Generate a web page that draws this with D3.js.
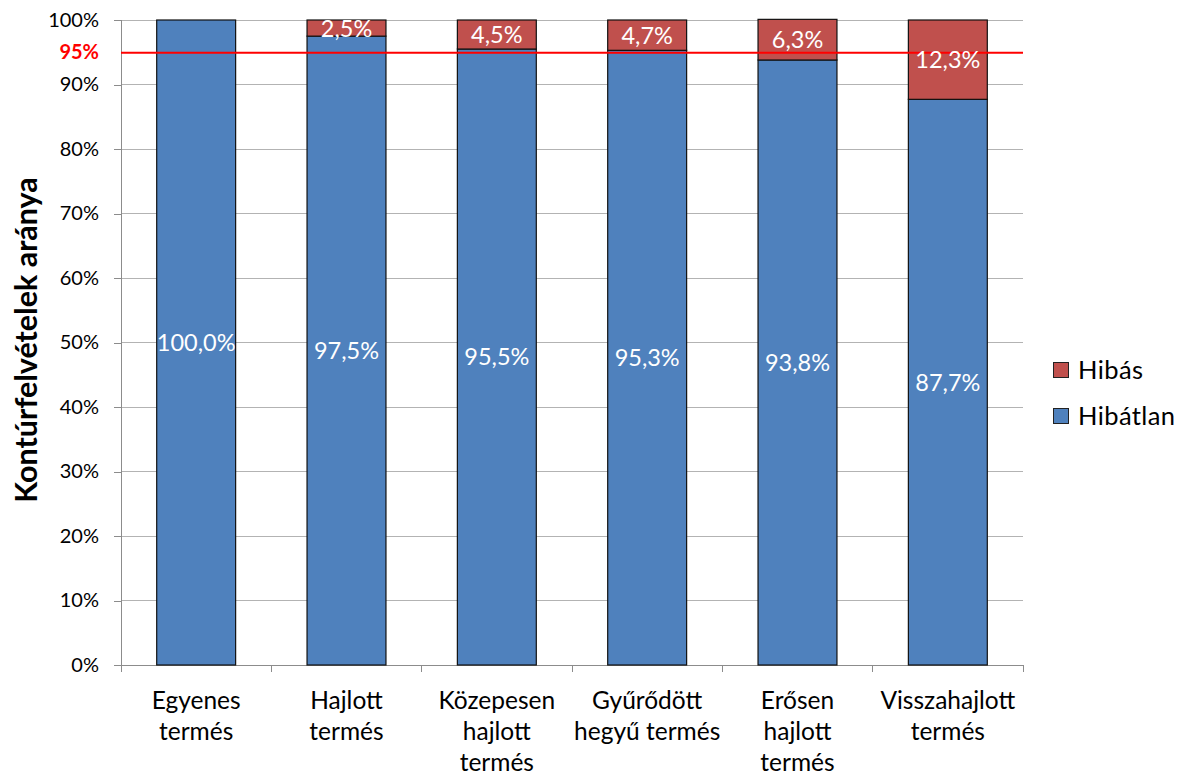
<!DOCTYPE html>
<html>
<head>
<meta charset="utf-8">
<script src="https://cdn.jsdelivr.net/npm/d3@7"></script>
<style>
  html, body { margin: 0; padding: 0; background: #fff; }
  svg text { font-family: Lato, "Open Sans", sans-serif; }
</style>
</head>
<body>
<svg id="chart" width="1181" height="775"></svg>
<script>
// Kontúrfelvételek aránya termésformák szerint
const categories = [
  ["Egyenes", "termés"],
  ["Hajlott", "termés"],
  ["Közepesen", "hajlott", "termés"],
  ["Gyűrődött", "hegyű termés"],
  ["Erősen", "hajlott", "termés"],
  ["Visszahajlott", "termés"]
];
const hibatlan = [100.0, 97.5, 95.5, 95.3, 93.8, 87.7];
const hibas = [0.0, 2.5, 4.5, 4.7, 6.3, 12.3];
const yTicks = [0, 10, 20, 30, 40, 50, 60, 70, 80, 90, 100];
const threshold = 95;
const seriesNames = ["Hibás", "Hibátlan"];

const colors = { "Hibátlan": "#4F81BD", "Hibás": "#C0504D" };

const svg = d3.select("#chart");
const plotLeft = 121, plotRight = 1023, plotTop = 20, plotBottom = 665;

const x = d3.scaleBand()
  .domain(d3.range(categories.length))
  .range([plotLeft, plotRight])
  .paddingInner(0.475)
  .paddingOuter(0.2375);

const y = d3.scaleLinear().domain([0, 100]).range([plotBottom, plotTop]);

const fmt = v => d3.format(".1f")(v).replace(".", ",") + "%";

// gridlines
svg.append("g").selectAll("line")
  .data(yTicks.filter(t => t > 0))
  .join("line")
  .attr("x1", plotLeft).attr("x2", plotRight)
  .attr("y1", d => y(d)).attr("y2", d => y(d))
  .attr("stroke", "#b3b3b3").attr("stroke-width", 1)
  .attr("shape-rendering", "crispEdges");

// y axis
const yAxis = d3.axisLeft(y).tickValues(yTicks).tickSize(7).tickPadding(15)
  .tickFormat(d => d + "%");
const gy = svg.append("g").attr("transform", `translate(${plotLeft},0)`).call(yAxis);
gy.select(".domain").attr("stroke", "#8c8c8c").attr("shape-rendering", "crispEdges");
gy.selectAll(".tick line").attr("stroke", "#8c8c8c").attr("shape-rendering", "crispEdges");
gy.selectAll(".tick text").attr("font-size", 20).attr("fill", "#000")
  .attr("font-family", "Lato, sans-serif");

// extra 95% tick label
svg.append("text")
  .attr("x", plotLeft - 22).attr("y", y(threshold))
  .attr("dy", "0.35em").attr("text-anchor", "end")
  .attr("font-size", 20).attr("font-weight", "bold").attr("fill", "#ff0000")
  .text(threshold + "%");

// x axis
const xAxis = d3.axisBottom(x).tickSize(0).tickFormat("");
const gx = svg.append("g").attr("transform", `translate(0,${plotBottom})`).call(xAxis);
gx.select(".domain").attr("stroke", "#8c8c8c").attr("shape-rendering", "crispEdges");
svg.append("g").selectAll("line")
  .data(d3.range(categories.length + 1))
  .join("line")
  .attr("x1", i => plotLeft + i * (plotRight - plotLeft) / categories.length)
  .attr("x2", i => plotLeft + i * (plotRight - plotLeft) / categories.length)
  .attr("y1", plotBottom).attr("y2", plotBottom + 7)
  .attr("stroke", "#8c8c8c").attr("shape-rendering", "crispEdges");

// category labels
const catG = svg.append("g");
categories.forEach((lines, i) => {
  const cx = x(i) + x.bandwidth() / 2;
  const t = catG.append("text")
    .attr("x", cx)
    .attr("y", 709)
    .attr("text-anchor", "middle")
    .attr("font-size", 24.5).attr("fill", "#000");
  lines.forEach((ln, j) => {
    t.append("tspan").attr("x", cx)
      .attr("dy", j === 0 ? 0 : 31).text(ln);
  });
});

// stacked bars
const rows = categories.map((c, i) => ({ i, "Hibátlan": hibatlan[i], "Hibás": hibas[i] }));
const stack = d3.stack().keys(["Hibátlan", "Hibás"])(rows);

const barG = svg.append("g");
stack.forEach(layer => {
  barG.append("g").selectAll("rect")
    .data(layer.filter(d => d[1] - d[0] > 0))
    .join("rect")
    .attr("x", d => x(d.data.i))
    .attr("width", x.bandwidth())
    .attr("y", d => y(d[1]))
    .attr("height", d => y(d[0]) - y(d[1]))
    .attr("fill", colors[layer.key])
    .attr("stroke", "#111").attr("stroke-width", 1.2);
});

// 95% threshold line
svg.append("line")
  .attr("x1", plotLeft).attr("x2", plotRight)
  .attr("y1", y(threshold) + 0.5).attr("y2", y(threshold) + 0.5)
  .attr("stroke", "#ff0000").attr("stroke-width", 2);

// value labels
stack.forEach(layer => {
  svg.append("g").selectAll("text")
    .data(layer.filter(d => d[1] - d[0] > 0))
    .join("text")
    .attr("x", d => x(d.data.i) + x.bandwidth() / 2)
    .attr("y", d => (y(d[0]) + y(d[1])) / 2)
    .attr("dy", "0.36em")
    .attr("text-anchor", "middle")
    .attr("font-size", 23.5).attr("fill", "#fff")
    .text(d => fmt(d[1] - d[0]));
});

// y axis title
svg.append("text")
  .attr("transform", `translate(37,340) rotate(-90)`)
  .attr("text-anchor", "middle")
  .attr("font-size", 30.5).attr("font-weight", "bold").attr("fill", "#000")
  .text("Kontúrfelvételek aránya");

// legend
const legend = svg.append("g");
seriesNames.forEach((name, k) => {
  const cy = 370 + k * 46;
  legend.append("rect")
    .attr("x", 1053.5).attr("y", cy - 7.5).attr("width", 15).attr("height", 15)
    .attr("fill", colors[name]).attr("stroke", "#222").attr("stroke-width", 1);
  legend.append("text")
    .attr("x", 1078).attr("y", cy).attr("dy", "0.36em")
    .attr("font-size", 25.5).attr("letter-spacing", 0.4).attr("fill", "#000")
    .text(name);
});
</script>
</body>
</html>
